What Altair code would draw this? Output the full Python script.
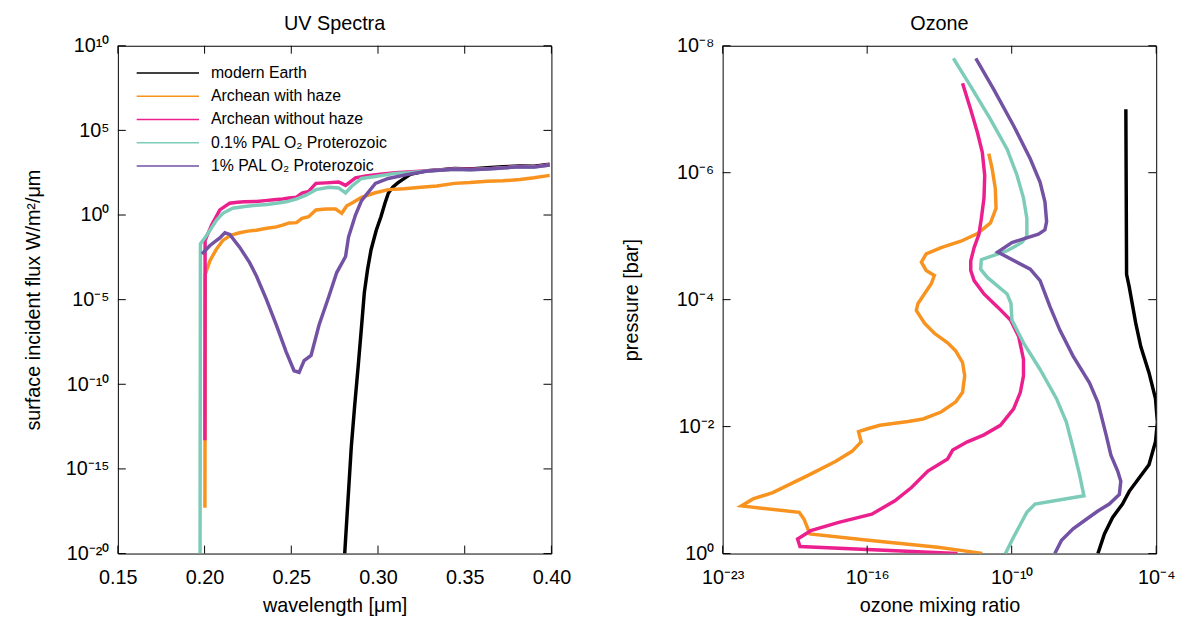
import altair as alt
import pandas as pd

FONT = "Liberation Sans"

SERIES = ["modern Earth", "Archean with haze", "Archean without haze",
          "0.1% PAL O₂ Proterozoic", "1% PAL O₂ Proterozoic"]
COLORS = ["#000000", "#f7931e", "#ec1f8e", "#7dcbb9", "#7352a3"]

# ---------------- UV spectra: wavelength [um], log10 flux [W/m2/um] ----------------
uv_modern_wl = [0.2808, 0.2826, 0.2846, 0.2866, 0.2886, 0.2905, 0.2921, 0.2940, 0.2960,
                0.2990, 0.3017, 0.3040, 0.3060, 0.3085, 0.3114, 0.3150, 0.3186, 0.3240,
                0.3286, 0.3350, 0.3441, 0.3530, 0.3630, 0.3720, 0.3818, 0.3900, 0.3990]
uv_modern_lf = [-20.0, -17.0, -13.7, -11.2, -8.9, -6.6, -4.6, -3.2, -2.05,
                -0.9, -0.1, 0.7, 1.3, 1.65, 1.9, 2.15, 2.4, 2.52,
                2.62, 2.66, 2.75, 2.72, 2.8, 2.85, 2.9, 2.88, 3.0]

uv_haze_wl = [0.2002, 0.2004, 0.2031, 0.2069, 0.2105, 0.2150, 0.2202, 0.2250, 0.2299,
              0.2350, 0.2414, 0.2450, 0.2488, 0.2530, 0.2562, 0.2600, 0.2642, 0.2700,
              0.2756, 0.2791, 0.2820, 0.2848, 0.2905, 0.2980, 0.3059, 0.3150, 0.3247,
              0.3340, 0.3441, 0.3530, 0.3630, 0.3720, 0.3818, 0.3900, 0.3990]
uv_haze_lf = [-17.3, -3.5, -2.7, -2.0, -1.5, -1.2, -1.05, -0.95, -0.9,
              -0.8, -0.7, -0.6, -0.47, -0.45, -0.2, -0.1, 0.3, 0.35,
              0.35, 0.1, 0.55, 0.7, 1.05, 1.3, 1.5, 1.55, 1.64,
              1.72, 1.87, 1.92, 2.0, 2.02, 2.1, 2.2, 2.34]

uv_nohaze_wl = [0.2002, 0.2003, 0.2040, 0.2088, 0.2145, 0.2190, 0.2230, 0.2299, 0.2350,
                0.2400, 0.2450, 0.2488, 0.2530, 0.2562, 0.2600, 0.2642, 0.2700, 0.2773,
                0.2813, 0.2870, 0.2930, 0.3000, 0.3099, 0.3173, 0.3287, 0.3441, 0.3530,
                0.3630, 0.3720, 0.3818, 0.3900, 0.3990]
uv_nohaze_lf = [-13.3, -1.5, -0.6, 0.3, 0.7, 0.75, 0.78, 0.8, 0.85,
                0.9, 0.95, 1.0, 1.05, 1.3, 1.4, 1.87, 1.9, 1.95,
                1.75, 2.2, 2.3, 2.4, 2.5, 2.55, 2.62, 2.72, 2.7,
                2.74, 2.8, 2.87, 2.85, 2.97]

uv_p01_wl = [0.1974, 0.1976, 0.2002, 0.2031, 0.2069, 0.2105, 0.2162, 0.2230, 0.2299,
             0.2360, 0.2414, 0.2470, 0.2528, 0.2585, 0.2642, 0.2717, 0.2773, 0.2813,
             0.2848, 0.2905, 0.2985, 0.3099, 0.3173, 0.3287, 0.3441, 0.3530, 0.3630,
             0.3720, 0.3818, 0.3900, 0.3990]
uv_p01_lf = [-20.0, -1.7, -1.35, -0.9, -0.3, 0.1, 0.4, 0.5, 0.58,
             0.62, 0.7, 0.78, 0.94, 1.17, 1.5, 1.64, 1.6, 1.3,
             1.7, 2.16, 2.28, 2.46, 2.5, 2.6, 2.7, 2.68, 2.72,
             2.78, 2.85, 2.83, 2.95]

uv_p1_wl = [0.1985, 0.2031, 0.2088, 0.2117, 0.2145, 0.2202, 0.2259, 0.2299, 0.2357,
            0.2414, 0.2471, 0.2516, 0.2545, 0.2574, 0.2614, 0.2660, 0.2717, 0.2762,
            0.2813, 0.2830, 0.2870, 0.2905, 0.2985, 0.3059, 0.3173, 0.3287, 0.3441,
            0.3530, 0.3630, 0.3720, 0.3818, 0.3900, 0.3990]
uv_p1_lf = [-2.3, -1.8, -1.35, -1.05, -1.15, -1.9, -2.8, -3.6, -5.0,
            -6.5, -8.1, -9.2, -9.3, -8.6, -8.3, -6.5, -4.8, -3.4,
            -2.45, -1.3, 0.0, 0.85, 1.87, 2.16, 2.4, 2.6, 2.7,
            2.68, 2.72, 2.78, 2.85, 2.83, 2.95]

UV_X_TICKS = [0.15, 0.20, 0.25, 0.30, 0.35, 0.40]
UV_Y_TICKS = [1e-20, 1e-15, 1e-10, 1e-5, 1e0, 1e5, 1e10]
UV_Y_LABELS = ["10⁻²⁰", "10⁻¹⁵", "10⁻¹⁰", "10⁻⁵", "10⁰", "10⁵", "10¹⁰"]

# ---------------- Ozone profiles: log10 mixing ratio, log10 pressure [bar] ----------------
o3_modern_x = [-5.26, -5.23, -5.12, -4.85, -4.64, -4.30, -4.03, -3.95, -4.03, -4.30,
               -4.71, -5.12, -5.40, -5.81, -6.15, -6.42]
o3_modern_p = [-7.0, -4.40, -4.2, -3.63, -3.26, -2.85, -2.44, -2.07, -1.76, -1.40,
               -1.19, -0.98, -0.78, -0.57, -0.31, 0.0]

o3_haze_x = [-10.95, -10.81, -10.68, -10.65, -10.88, -11.42, -12.11, -12.93, -13.55, -13.75,
             -13.55, -13.21, -13.34, -13.89, -13.96, -13.62, -13.21, -12.66, -12.32, -12.04,
             -11.95, -12.04, -12.32, -12.93, -13.68, -14.30, -15.47, -15.95, -16.36, -16.25,
             -16.63, -17.32, -18.41, -19.92, -20.74, -21.22, -18.82, -18.62, -18.38, -15.95,
             -13.07, -12.11, -11.22]
o3_haze_p = [-6.30, -6.06, -5.75, -5.44, -5.21, -5.04, -4.92, -4.82, -4.72, -4.59,
             -4.46, -4.38, -4.25, -3.94, -3.83, -3.63, -3.47, -3.32, -3.19, -3.01,
             -2.80, -2.54, -2.39, -2.23, -2.12, -2.08, -2.02, -1.97, -1.92, -1.76,
             -1.61, -1.45, -1.24, -0.96, -0.86, -0.75, -0.65, -0.54, -0.31, -0.21,
             -0.10, -0.05, 0.0]

o3_nohaze_x = [-12.04, -11.70, -11.42, -11.22, -11.12, -11.15, -11.26, -11.36, -11.56, -11.70,
               -11.70, -11.56, -11.15, -10.60, -10.05, -9.71, -9.51, -9.51, -9.64, -9.92,
               -10.47, -11.15, -11.84, -12.45, -12.66, -13.48, -14.16, -14.85, -15.81, -17.18,
               -18.34, -18.89, -18.79, -12.25]
o3_nohaze_p = [-7.41, -6.99, -6.63, -6.32, -5.96, -5.60, -5.28, -5.03, -4.82, -4.61,
               -4.46, -4.30, -4.09, -3.89, -3.68, -3.42, -3.06, -2.80, -2.54, -2.28,
               -2.02, -1.87, -1.76, -1.63, -1.49, -1.30, -1.04, -0.83, -0.62, -0.49,
               -0.36, -0.23, -0.11, 0.0]

o3_p01_x = [-12.42, -11.70, -10.88, -10.19, -9.78, -9.51, -9.37, -9.37, -9.58, -10.19,
            -11.26, -11.29, -11.01, -10.19, -10.03, -9.99, -9.51, -8.82, -8.14, -7.73,
            -7.45, -7.18, -7.00, -9.03, -9.37, -9.92, -10.26]
o3_p01_p = [-7.80, -7.36, -6.84, -6.37, -5.96, -5.60, -5.28, -5.00, -4.90, -4.77,
            -4.63, -4.48, -4.35, -4.09, -3.94, -3.68, -3.32, -2.90, -2.44, -2.07,
            -1.66, -1.24, -0.91, -0.78, -0.65, -0.26, 0.0]

o3_p1_x = [-11.49, -10.74, -9.92, -9.23, -8.82, -8.62, -8.55, -8.62, -8.89, -9.99,
           -10.58, -9.23, -8.82, -8.41, -8.00, -7.45, -6.77, -6.42, -6.08, -5.88,
           -5.60, -5.47, -5.53, -5.95, -6.42, -6.90, -7.45, -7.93, -8.21]
o3_p1_p = [-7.80, -7.31, -6.74, -6.22, -5.85, -5.54, -5.23, -5.10, -5.03, -4.90,
           -4.75, -4.48, -4.30, -3.89, -3.52, -3.11, -2.69, -2.38, -1.87, -1.55,
           -1.30, -1.14, -0.93, -0.78, -0.67, -0.54, -0.39, -0.21, 0.0]

O3_X_TICKS = [1e-22, 1e-16, 1e-10, 1e-4]
O3_X_LABELS = ["10⁻²³", "10⁻¹⁶", "10⁻¹⁰", "10⁻⁴"]
O3_Y_TICKS = [1e-8, 1e-6, 1e-4, 1e-2, 1e0]
O3_Y_LABELS = ["10⁻⁸", "10⁻⁶", "10⁻⁴", "10⁻²", "10⁰"]

W, H = 438, 513
TL = 8  # inward tick length


def table(groups, xlog, ylog):
    rows = []
    for name, xs, ys in groups:
        for i, (a, b) in enumerate(zip(xs, ys)):
            rows.append({"series": name,
                         "x": 10.0 ** a if xlog else a,
                         "y": 10.0 ** b if ylog else b,
                         "i": i})
    return pd.DataFrame(rows)


def label_expr(ticks, labels):
    import math
    expr = "''"
    for t, lab in zip(ticks, labels):
        e = int(round(math.log10(t)))
        expr = f"(round(log(datum.value)/LN10)=={e}) ? '{lab}' : " + expr
    return expr


uv_df = table([(SERIES[0], uv_modern_wl, uv_modern_lf),
               (SERIES[1], uv_haze_wl, uv_haze_lf),
               (SERIES[2], uv_nohaze_wl, uv_nohaze_lf),
               (SERIES[3], uv_p01_wl, uv_p01_lf),
               (SERIES[4], uv_p1_wl, uv_p1_lf)], xlog=False, ylog=True)

o3_df = table([(SERIES[0], o3_modern_x, o3_modern_p),
               (SERIES[1], o3_haze_x, o3_haze_p),
               (SERIES[2], o3_nohaze_x, o3_nohaze_p),
               (SERIES[3], o3_p01_x, o3_p01_p),
               (SERIES[4], o3_p1_x, o3_p1_p)], xlog=True, ylog=True)

color_scale = alt.Scale(domain=SERIES, range=COLORS)


def tick_layers(xvals, yvals, xscale, yscale, xaxis, yaxis):
    xt = pd.DataFrame({"t": xvals})
    yt = pd.DataFrame({"t": yvals})
    base_x = alt.Chart(xt).mark_rule(color="black", strokeWidth=1)
    base_y = alt.Chart(yt).mark_rule(color="black", strokeWidth=1)
    xenc = alt.X("t:Q", scale=xscale, axis=xaxis)
    yenc = alt.Y("t:Q", scale=yscale, axis=yaxis)
    return [
        base_x.encode(x=xenc, y=alt.value(H - TL), y2=alt.value(H)),
        base_x.encode(x=xenc, y=alt.value(0), y2=alt.value(TL)),
        base_y.encode(y=yenc, x=alt.value(0), x2=alt.value(TL)),
        base_y.encode(y=yenc, x=alt.value(W - TL), x2=alt.value(W)),
    ]


# ---------------- left panel ----------------
uv_xs = alt.Scale(domain=[0.15, 0.40], nice=False, zero=False)
uv_ys = alt.Scale(type="log", domain=[1e-20, 1e10], nice=False)
uv_xaxis = alt.Axis(values=UV_X_TICKS, format=".2f", title="wavelength [μm]",
                    titlePadding=9, labelPadding=14, labelFlush=False)
uv_yaxis = alt.Axis(values=UV_Y_TICKS, labelExpr=label_expr(UV_Y_TICKS, UV_Y_LABELS),
                    title="surface incident flux W/m²/μm", labelFlush=False,
                    minExtent=60, maxExtent=60, titlePadding=15, labelPadding=9)

uv_lines = alt.Chart(uv_df).mark_line(strokeWidth=3.5, clip=True).encode(
    x=alt.X("x:Q", scale=uv_xs, axis=uv_xaxis),
    y=alt.Y("y:Q", scale=uv_ys, axis=uv_yaxis),
    color=alt.Color("series:N", scale=color_scale, sort=SERIES,
                    legend=alt.Legend(title=None, orient="none", legendX=39, legendY=16,
                                      symbolType="M-3,0H3", symbolSize=441,
                                      symbolStrokeWidth=1.5, labelFontSize=16,
                                      labelFont=FONT, labelColor="black", labelLimit=0,
                                      labelOffset=32, padding=0, rowPadding=3.5)),
    order="i:Q",
)

left = alt.layer(uv_lines, *tick_layers(UV_X_TICKS, UV_Y_TICKS, uv_xs, uv_ys,
                                        uv_xaxis, uv_yaxis)).properties(
    width=W, height=H,
    title=alt.TitleParams("UV Spectra", fontSize=20, fontWeight="normal", font=FONT,
                          color="black", offset=2),
)

# ---------------- right panel ----------------
o3_xs = alt.Scale(type="log", domain=[1e-22, 1e-4], nice=False)
o3_ys = alt.Scale(type="log", domain=[1e-8, 1e0], nice=False, reverse=True)
o3_xaxis = alt.Axis(values=O3_X_TICKS, labelExpr=label_expr(O3_X_TICKS, O3_X_LABELS),
                    title="ozone mixing ratio", titlePadding=9, labelPadding=14,
                    labelFlush=False)
o3_yaxis = alt.Axis(values=O3_Y_TICKS, labelExpr=label_expr(O3_Y_TICKS, O3_Y_LABELS),
                    title="pressure [bar]", labelFlush=False,
                    minExtent=56, maxExtent=56, titlePadding=26, labelPadding=9)

o3_lines = alt.Chart(o3_df).mark_line(strokeWidth=3.5, clip=True).encode(
    x=alt.X("x:Q", scale=o3_xs, axis=o3_xaxis),
    y=alt.Y("y:Q", scale=o3_ys, axis=o3_yaxis),
    color=alt.Color("series:N", scale=color_scale, sort=SERIES, legend=None),
    order="i:Q",
)

right = alt.layer(o3_lines, *tick_layers(O3_X_TICKS, O3_Y_TICKS, o3_xs, o3_ys,
                                         o3_xaxis, o3_yaxis)).properties(
    width=W, height=H,
    title=alt.TitleParams("Ozone", fontSize=20, fontWeight="normal", font=FONT,
                          color="black", offset=2),
)

chart = alt.hconcat(left, right, spacing=50).properties(
    padding={"left": 15, "top": 2, "right": 0, "bottom": 0}
).configure_view(
    stroke="black", strokeWidth=1
).configure_axis(
    labelFont=FONT, titleFont=FONT, labelFontSize=20, titleFontSize=20,
    titleFontWeight="normal", labelColor="black", titleColor="black",
    grid=False, ticks=False, tickSize=0, domain=False,
)

chart.save("out.html", embed_options={"renderer": "svg", "actions": False})
